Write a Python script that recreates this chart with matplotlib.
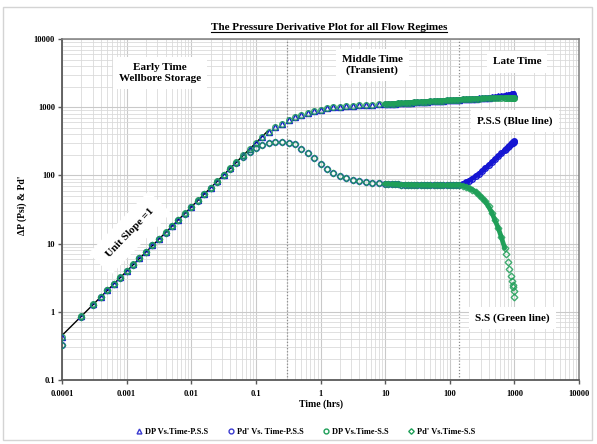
import matplotlib
matplotlib.use("Agg")
import matplotlib.pyplot as plt
from matplotlib.lines import Line2D
from matplotlib.patches import Rectangle
from matplotlib.ticker import LogLocator, FixedLocator, FuncFormatter, NullFormatter

# ---- data -------------------------------------------------------------
time_hrs = [
    0.0001, 0.0002, 0.0003, 0.0004, 0.0005, 0.00063, 0.0008,
    0.001, 0.00126, 0.00158, 0.002, 0.0025, 0.0032, 0.004, 0.005, 0.0063, 0.008,
    0.01, 0.0126, 0.0158, 0.02, 0.025, 0.032, 0.04, 0.05, 0.063, 0.08,
    0.1, 0.126, 0.158, 0.2, 0.25, 0.32, 0.4, 0.5, 0.63, 0.8,
    1.0, 1.26, 1.58, 2.0, 2.5, 3.2, 4.0, 5.0, 6.3, 8.0,
    10, 11.2, 12.6, 14.1, 15.8, 17.8, 20, 22.4, 25.1, 28.2,
    31.6, 35.5, 39.8, 44.7, 50.1, 56.2, 63.1, 70.8, 79.4, 89.1,
    100, 112, 126, 141, 158, 178, 200, 224, 251, 282,
    316, 355, 398, 447, 501, 562, 631, 708, 750, 794, 840, 891,
    925, 945, 960, 980, 1000,
]

dp_early = [
    0.43, 0.87, 1.29, 1.67, 2.08, 2.58, 3.21,
    3.98, 4.94, 6.14, 7.62, 9.46, 11.7, 14.6, 18.1, 22.5, 27.9,
    34.7, 43.1, 53.5, 66.4, 82.4, 102, 127, 158, 196, 240,
    298, 365, 438, 507, 567, 649, 711, 769, 830, 880,
    920, 964, 997, 1016, 1030, 1052, 1067, 1077, 1089, 1100,
    1110, 1117, 1124, 1131, 1139, 1146, 1153, 1161, 1168, 1176,
    1183, 1191, 1199, 1207, 1215, 1223, 1231, 1239, 1247, 1255,
    1264, 1272, 1281, 1290,
]
pd_early = [
    0.33, 0.85, 1.27, 1.65, 2.06, 2.55, 3.18,
    3.95, 4.90, 6.10, 7.55, 9.40, 11.6, 14.5, 18.0, 22.3, 27.6,
    34.3, 42.5, 52.5, 65.0, 80.0, 100, 124, 152, 185, 220,
    252, 280, 297, 306, 309, 303, 284, 246, 210, 177,
    148, 124, 110, 98, 91, 86, 82, 80, 78, 76.5,
    75.5, 75, 74.5, 74, 73.6, 73.3, 73, 72.8, 72.6, 72.4,
    72.2, 72.1, 72, 71.9, 71.8, 71.7, 71.7, 71.6, 71.6, 71.6,
    71.6, 71.7, 72, 72.6,
]

# late-time branches (t >= 158 hrs)
dp_late_pss = [1300, 1309, 1318, 1328, 1338, 1348, 1360, 1372, 1386, 1401,
               1418, 1437, 1459, 1484, 1497, 1512, 1527, 1545,
               1556, 1562, 1568, 1575, 1582]
pd_late_pss = [75.5, 79, 84, 90, 97, 105, 115, 127, 140, 155,
               172, 190, 210, 232, 244, 257, 270, 285,
               294, 300, 304, 310, 316]
dp_late_ss = [1298, 1306, 1314, 1321, 1328, 1335, 1342, 1348, 1354, 1359,
              1364, 1368, 1372, 1376, 1377, 1379, 1380, 1382,
              1383, 1383.5, 1384, 1385, 1386]
pd_late_ss = [70, 68, 65, 61.5, 58, 52, 47, 41.5, 35, 28.5,
              22, 17, 12.3, 8.6, 7.0, 5.4, 4.3, 3.3,
              2.8, 2.5, 2.3, 2.0, 1.65]

dp_pss = dp_early + dp_late_pss
pd_pss = pd_early + pd_late_pss
dp_ss = dp_early + dp_late_ss
pd_ss = pd_early + pd_late_ss

unit_slope_t = [0.0001, 0.15]
unit_slope_p = [0.45, 440]
regime_bounds = [0.3, 140]

x_ticks = [0.0001, 0.001, 0.01, 0.1, 1, 10, 100, 1000, 10000]
y_ticks = [0.1, 1, 10, 100, 1000, 10000]

series_labels = ["DP Vs.Time-P.S.S", "Pd' Vs. Time-P.S.S",
                 "DP Vs.Time-S.S", "Pd' Vs.Time-S.S"]

# ---- styling ------------------------------------------------------------
plt.rcParams["font.family"] = ["Liberation Serif", "DejaVu Serif"]
plt.rcParams["font.weight"] = "bold"

BLUE = "#1515d2"
GREEN = "#1f9f58"

W, H = 597, 444
fig = plt.figure(figsize=(W / 100, H / 100), dpi=100)
fig.patch.set_facecolor("white")

ax = fig.add_axes([62 / W, 1 - 380 / H, (579 - 62) / W, (380 - 39) / H])
ax.set_xscale("log")
ax.set_yscale("log")
ax.set_xlim(x_ticks[0], x_ticks[-1])
ax.set_ylim(y_ticks[0], y_ticks[-1])

ax.xaxis.set_major_locator(FixedLocator(x_ticks))
ax.yaxis.set_major_locator(FixedLocator(y_ticks))
ax.xaxis.set_minor_locator(LogLocator(base=10, subs=range(2, 10), numticks=20))
ax.yaxis.set_minor_locator(LogLocator(base=10, subs=range(2, 10), numticks=20))
fmt = FuncFormatter(lambda v, _: f"{v:g}")
ax.xaxis.set_major_formatter(fmt)
ax.yaxis.set_major_formatter(fmt)
ax.xaxis.set_minor_formatter(NullFormatter())
ax.yaxis.set_minor_formatter(NullFormatter())

ax.grid(which="major", color="#c9c9c9", lw=0.8)
ax.grid(which="minor", color="#dadada", lw=0.6)
ax.set_axisbelow(True)

ax.tick_params(which="major", direction="out", length=3, width=1,
               color="#595959", labelsize=6, pad=2)
ax.tick_params(which="minor", length=0)
ax.tick_params(axis="x", pad=4)
for lab in ax.get_xticklabels() + ax.get_yticklabels():
    lab.set_fontweight("bold")

for side in ("left", "bottom"):
    ax.spines[side].set_color("#595959")
    ax.spines[side].set_linewidth(1.3)
for side in ("top", "right"):
    ax.spines[side].set_color("#7f7f7f")
    ax.spines[side].set_linewidth(1.1)

# regime boundaries
for b in regime_bounds:
    ax.axvline(b, color="#8c8c8c", ls=(0, (1, 1.5)), lw=0.9, zorder=1)

# unit-slope reference line
ax.plot(unit_slope_t, unit_slope_p, color="black", lw=1.0, zorder=3)

# data series: open markers; the densely sampled late-time record merges
# into a solid band, drawn as a thick trace through the same samples
late = time_hrs.index(10)
steep = time_hrs.index(708)
band = dict(lw=3.4, solid_capstyle="round", solid_joinstyle="round")
ax.plot(time_hrs[late:], dp_pss[late:], color=BLUE, zorder=4, **band)
ax.plot(time_hrs[late:], pd_pss[late:], color=BLUE, zorder=4, **band)
ax.plot(time_hrs[late:], dp_ss[late:], color=GREEN, zorder=5, **band)
ax.plot(time_hrs[late:steep + 1], pd_ss[late:steep + 1], color=GREEN, zorder=5, **band)

mk = dict(ls="none", markersize=4, markeredgewidth=1.0, markerfacecolor="none")
ax.plot(time_hrs, dp_pss, marker="^", markeredgecolor=BLUE, zorder=4, **mk)
ax.plot(time_hrs, pd_pss, marker="o", markeredgecolor=BLUE, zorder=4, **mk)
ax.plot(time_hrs, dp_ss, marker="o", markeredgecolor=GREEN, alpha=0.85, zorder=5, **mk)
ax.plot(time_hrs, pd_ss, marker="D", markeredgecolor=GREEN, alpha=0.85, zorder=5,
        **{**mk, "markersize": 3.4})

# region labels
box = dict(boxstyle="square,pad=0.55", facecolor="white", edgecolor="none")
txt = dict(fontsize=8, fontweight="bold", ha="center", va="center",
           linespacing=1.25, zorder=6, bbox=box)
ax.text(0.0033, 3150, "Early Time\nWellbore Storage", **txt)
ax.text(6.3, 4150, "Middle Time\n(Transient)", **txt)
ax.text(1100, 4600, "Late Time", **txt)
ax.text(1020, 630, "P.S.S (Blue line)", **txt)
ax.text(930, 0.81, "S.S (Green line)", **txt)
ax.text(0.00112, 14.3, "Unit Slope =1", rotation=46, rotation_mode="anchor",
        **{**txt, "bbox": dict(boxstyle="square,pad=1.0", facecolor="white",
                               edgecolor="none")})

# axis titles
fig.text(321 / W, 1 - 404 / H, "Time (hrs)", ha="center", va="center",
         fontsize=7, fontweight="bold")
fig.text(22 / W, 1 - 205 / H, "ΔP (Psi) & Pd'", ha="center", va="center",
         rotation=90, fontsize=7, fontweight="bold")

title = fig.text(329 / W, 1 - 27 / H,
                 "The Pressure Derivative Plot for all Flow Regimes",
                 ha="center", va="center", fontsize=8, fontweight="bold")

# legend
handles = [
    Line2D([], [], ls="none", marker="^", markersize=3.5, markerfacecolor="none",
           markeredgecolor="#3a3ad0", markeredgewidth=1.0),
    Line2D([], [], ls="none", marker="o", markersize=3.5, markerfacecolor="none",
           markeredgecolor="#3a3ad0", markeredgewidth=1.0),
    Line2D([], [], ls="none", marker="o", markersize=3.5, markerfacecolor="none",
           markeredgecolor=GREEN, markeredgewidth=1.0),
    Line2D([], [], ls="none", marker="D", markersize=2.8, markerfacecolor="none",
           markeredgecolor=GREEN, markeredgewidth=1.0),
]
fig.legend(handles, series_labels, loc="center", ncol=4,
           bbox_to_anchor=(305 / W, 1 - 432 / H), frameon=False,
           prop=dict(family="Liberation Serif", weight="bold", size=6),
           handletextpad=0.2, columnspacing=2.2, handlelength=1.0)

# chart-area border
fig.patches.append(Rectangle((3 / W, 4 / H), 589 / W, 433 / H,
                             transform=fig.transFigure, fill=False,
                             edgecolor="#d4d4d4", lw=1.0))

# underline the title
fig.canvas.draw()
bb = title.get_window_extent(renderer=fig.canvas.get_renderer())
inv = fig.transFigure.inverted()
(x0, y0), (x1, _) = inv.transform([(bb.x0, bb.y0), (bb.x1, bb.y1)])
fig.add_artist(Line2D([x0, x1], [y0 - 0.002, y0 - 0.002], color="black",
                      lw=0.8, transform=fig.transFigure))

fig.savefig("out.png", dpi=100)
